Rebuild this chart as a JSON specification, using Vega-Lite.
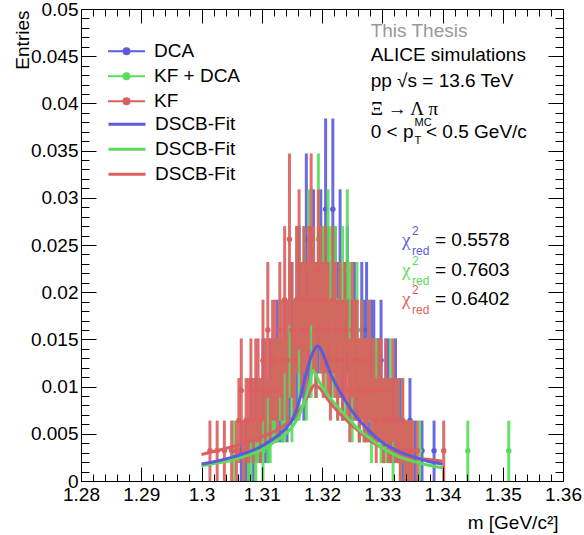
{
"$schema": "https://vega.github.io/schema/vega-lite/v6.json",
"width": 482,
"height": 472,
"autosize": {"type": "none"},
"padding": {"left": 81, "top": 9, "right": 21, "bottom": 54},
"background": "white",
"config": {"view": {"stroke": null}, "font": "Liberation Sans"},
"datasets": {
"h": [
{"s":"DCA","m":1.3066,"y":0.0032,"e":0.0032},{"s":"DCA","m":1.3074,"y":0.0032,"e":0.0032},{"s":"DCA","m":1.3078,"y":0.0032,"e":0.0032},{"s":"DCA","m":1.3082,"y":0.0064,"e":0.0045},{"s":"DCA","m":1.3086,"y":0.0032,"e":0.0032},{"s":"DCA","m":1.309,"y":0.0064,"e":0.0045},{"s":"DCA","m":1.3094,"y":0.0064,"e":0.0045},{"s":"DCA","m":1.3098,"y":0.0064,"e":0.0045},{"s":"DCA","m":1.3102,"y":0.0096,"e":0.0055},{"s":"DCA","m":1.3106,"y":0.0064,"e":0.0045},{"s":"DCA","m":1.311,"y":0.0064,"e":0.0045},{"s":"DCA","m":1.3114,"y":0.0096,"e":0.0055},{"s":"DCA","m":1.3118,"y":0.0096,"e":0.0055},{"s":"DCA","m":1.3122,"y":0.0096,"e":0.0055},{"s":"DCA","m":1.3126,"y":0.0128,"e":0.0064},{"s":"DCA","m":1.313,"y":0.0096,"e":0.0055},{"s":"DCA","m":1.3134,"y":0.0096,"e":0.0055},{"s":"DCA","m":1.3138,"y":0.0128,"e":0.0064},{"s":"DCA","m":1.3142,"y":0.0096,"e":0.0055},{"s":"DCA","m":1.3146,"y":0.0128,"e":0.0064},{"s":"DCA","m":1.315,"y":0.016,"e":0.0072},{"s":"DCA","m":1.3154,"y":0.0128,"e":0.0064},{"s":"DCA","m":1.3158,"y":0.0128,"e":0.0064},{"s":"DCA","m":1.3162,"y":0.0192,"e":0.0078},{"s":"DCA","m":1.3166,"y":0.016,"e":0.0072},{"s":"DCA","m":1.317,"y":0.0128,"e":0.0064},{"s":"DCA","m":1.3174,"y":0.0256,"e":0.0091},{"s":"DCA","m":1.3178,"y":0.016,"e":0.0072},{"s":"DCA","m":1.3182,"y":0.0192,"e":0.0078},{"s":"DCA","m":1.3186,"y":0.0224,"e":0.0085},{"s":"DCA","m":1.319,"y":0.016,"e":0.0072},{"s":"DCA","m":1.3194,"y":0.0192,"e":0.0078},{"s":"DCA","m":1.3198,"y":0.0224,"e":0.0085},{"s":"DCA","m":1.3202,"y":0.0192,"e":0.0078},{"s":"DCA","m":1.3206,"y":0.0288,"e":0.0096},{"s":"DCA","m":1.321,"y":0.0192,"e":0.0078},{"s":"DCA","m":1.3214,"y":0.016,"e":0.0072},{"s":"DCA","m":1.3218,"y":0.0288,"e":0.0096},{"s":"DCA","m":1.3222,"y":0.0192,"e":0.0078},{"s":"DCA","m":1.3226,"y":0.016,"e":0.0072},{"s":"DCA","m":1.323,"y":0.0224,"e":0.0085},{"s":"DCA","m":1.3234,"y":0.0128,"e":0.0064},{"s":"DCA","m":1.3238,"y":0.016,"e":0.0072},{"s":"DCA","m":1.3242,"y":0.0192,"e":0.0078},{"s":"DCA","m":1.3246,"y":0.0128,"e":0.0064},{"s":"DCA","m":1.325,"y":0.0128,"e":0.0064},{"s":"DCA","m":1.3254,"y":0.016,"e":0.0072},{"s":"DCA","m":1.3258,"y":0.0128,"e":0.0064},{"s":"DCA","m":1.3262,"y":0.0096,"e":0.0055},{"s":"DCA","m":1.3266,"y":0.016,"e":0.0072},{"s":"DCA","m":1.327,"y":0.0128,"e":0.0064},{"s":"DCA","m":1.3274,"y":0.016,"e":0.0072},{"s":"DCA","m":1.3278,"y":0.0096,"e":0.0055},{"s":"DCA","m":1.3282,"y":0.0128,"e":0.0064},{"s":"DCA","m":1.3286,"y":0.0128,"e":0.0064},{"s":"DCA","m":1.329,"y":0.0096,"e":0.0055},{"s":"DCA","m":1.3294,"y":0.0096,"e":0.0055},{"s":"DCA","m":1.3298,"y":0.0128,"e":0.0064},{"s":"DCA","m":1.3302,"y":0.0064,"e":0.0045},{"s":"DCA","m":1.3306,"y":0.0096,"e":0.0055},{"s":"DCA","m":1.331,"y":0.0096,"e":0.0055},{"s":"DCA","m":1.3314,"y":0.0064,"e":0.0045},{"s":"DCA","m":1.3318,"y":0.0064,"e":0.0045},{"s":"DCA","m":1.3322,"y":0.0096,"e":0.0055},{"s":"DCA","m":1.3326,"y":0.0064,"e":0.0045},{"s":"DCA","m":1.333,"y":0.0064,"e":0.0045},{"s":"DCA","m":1.3334,"y":0.0032,"e":0.0032},{"s":"DCA","m":1.3338,"y":0.0032,"e":0.0032},{"s":"DCA","m":1.3342,"y":0.0032,"e":0.0032},{"s":"DCA","m":1.3346,"y":0.0064,"e":0.0045},{"s":"DCA","m":1.3354,"y":0.0032,"e":0.0032},{"s":"DCA","m":1.3366,"y":0.0032,"e":0.0032},{"s":"DCA","m":1.3386,"y":0.0032,"e":0.0032},
{"s":"KF + DCA","m":1.3054,"y":0.0032,"e":0.0032},{"s":"KF + DCA","m":1.307,"y":0.0032,"e":0.0032},{"s":"KF + DCA","m":1.3078,"y":0.0032,"e":0.0032},{"s":"KF + DCA","m":1.3082,"y":0.0032,"e":0.0032},{"s":"KF + DCA","m":1.3086,"y":0.0064,"e":0.0045},{"s":"KF + DCA","m":1.309,"y":0.0032,"e":0.0032},{"s":"KF + DCA","m":1.3094,"y":0.0064,"e":0.0045},{"s":"KF + DCA","m":1.3098,"y":0.0064,"e":0.0045},{"s":"KF + DCA","m":1.3102,"y":0.0032,"e":0.0032},{"s":"KF + DCA","m":1.3106,"y":0.0096,"e":0.0055},{"s":"KF + DCA","m":1.311,"y":0.0064,"e":0.0045},{"s":"KF + DCA","m":1.3114,"y":0.0064,"e":0.0045},{"s":"KF + DCA","m":1.3118,"y":0.0096,"e":0.0055},{"s":"KF + DCA","m":1.3122,"y":0.0096,"e":0.0055},{"s":"KF + DCA","m":1.3126,"y":0.0096,"e":0.0055},{"s":"KF + DCA","m":1.313,"y":0.0128,"e":0.0064},{"s":"KF + DCA","m":1.3134,"y":0.0096,"e":0.0055},{"s":"KF + DCA","m":1.3138,"y":0.0096,"e":0.0055},{"s":"KF + DCA","m":1.3142,"y":0.0128,"e":0.0064},{"s":"KF + DCA","m":1.3146,"y":0.016,"e":0.0072},{"s":"KF + DCA","m":1.315,"y":0.0096,"e":0.0055},{"s":"KF + DCA","m":1.3154,"y":0.0128,"e":0.0064},{"s":"KF + DCA","m":1.3158,"y":0.0192,"e":0.0078},{"s":"KF + DCA","m":1.3162,"y":0.0128,"e":0.0064},{"s":"KF + DCA","m":1.3166,"y":0.016,"e":0.0072},{"s":"KF + DCA","m":1.317,"y":0.0192,"e":0.0078},{"s":"KF + DCA","m":1.3174,"y":0.0128,"e":0.0064},{"s":"KF + DCA","m":1.3178,"y":0.0224,"e":0.0085},{"s":"KF + DCA","m":1.3182,"y":0.016,"e":0.0072},{"s":"KF + DCA","m":1.3186,"y":0.0192,"e":0.0078},{"s":"KF + DCA","m":1.319,"y":0.016,"e":0.0072},{"s":"KF + DCA","m":1.3194,"y":0.0256,"e":0.0091},{"s":"KF + DCA","m":1.3198,"y":0.0192,"e":0.0078},{"s":"KF + DCA","m":1.3202,"y":0.0192,"e":0.0078},{"s":"KF + DCA","m":1.3206,"y":0.016,"e":0.0072},{"s":"KF + DCA","m":1.321,"y":0.0224,"e":0.0085},{"s":"KF + DCA","m":1.3214,"y":0.0192,"e":0.0078},{"s":"KF + DCA","m":1.3218,"y":0.016,"e":0.0072},{"s":"KF + DCA","m":1.3222,"y":0.0192,"e":0.0078},{"s":"KF + DCA","m":1.3226,"y":0.0128,"e":0.0064},{"s":"KF + DCA","m":1.323,"y":0.016,"e":0.0072},{"s":"KF + DCA","m":1.3234,"y":0.0192,"e":0.0078},{"s":"KF + DCA","m":1.3238,"y":0.0128,"e":0.0064},{"s":"KF + DCA","m":1.3242,"y":0.0224,"e":0.0085},{"s":"KF + DCA","m":1.3246,"y":0.016,"e":0.0072},{"s":"KF + DCA","m":1.325,"y":0.0096,"e":0.0055},{"s":"KF + DCA","m":1.3254,"y":0.0128,"e":0.0064},{"s":"KF + DCA","m":1.3258,"y":0.016,"e":0.0072},{"s":"KF + DCA","m":1.3262,"y":0.0096,"e":0.0055},{"s":"KF + DCA","m":1.3266,"y":0.0128,"e":0.0064},{"s":"KF + DCA","m":1.327,"y":0.0096,"e":0.0055},{"s":"KF + DCA","m":1.3274,"y":0.0096,"e":0.0055},{"s":"KF + DCA","m":1.3278,"y":0.0128,"e":0.0064},{"s":"KF + DCA","m":1.3282,"y":0.0064,"e":0.0045},{"s":"KF + DCA","m":1.3286,"y":0.0096,"e":0.0055},{"s":"KF + DCA","m":1.329,"y":0.0096,"e":0.0055},{"s":"KF + DCA","m":1.3294,"y":0.0096,"e":0.0055},{"s":"KF + DCA","m":1.3298,"y":0.0064,"e":0.0045},{"s":"KF + DCA","m":1.3302,"y":0.0064,"e":0.0045},{"s":"KF + DCA","m":1.3306,"y":0.0064,"e":0.0045},{"s":"KF + DCA","m":1.331,"y":0.0064,"e":0.0045},{"s":"KF + DCA","m":1.3314,"y":0.0096,"e":0.0055},{"s":"KF + DCA","m":1.3318,"y":0.0032,"e":0.0032},{"s":"KF + DCA","m":1.3322,"y":0.0064,"e":0.0045},{"s":"KF + DCA","m":1.3326,"y":0.0064,"e":0.0045},{"s":"KF + DCA","m":1.333,"y":0.0032,"e":0.0032},{"s":"KF + DCA","m":1.3334,"y":0.0064,"e":0.0045},{"s":"KF + DCA","m":1.3338,"y":0.0032,"e":0.0032},{"s":"KF + DCA","m":1.3342,"y":0.0032,"e":0.0032},{"s":"KF + DCA","m":1.3346,"y":0.0032,"e":0.0032},{"s":"KF + DCA","m":1.335,"y":0.0032,"e":0.0032},{"s":"KF + DCA","m":1.3362,"y":0.0032,"e":0.0032},{"s":"KF + DCA","m":1.3442,"y":0.0032,"e":0.0032},{"s":"KF + DCA","m":1.351,"y":0.0032,"e":0.0032},
{"s":"KF","m":1.3014,"y":0.0032,"e":0.0032},{"s":"KF","m":1.3026,"y":0.0032,"e":0.0032},{"s":"KF","m":1.3038,"y":0.0032,"e":0.0032},{"s":"KF","m":1.305,"y":0.0032,"e":0.0032},{"s":"KF","m":1.3058,"y":0.0032,"e":0.0032},{"s":"KF","m":1.3062,"y":0.0064,"e":0.0045},{"s":"KF","m":1.3066,"y":0.0096,"e":0.0055},{"s":"KF","m":1.307,"y":0.0032,"e":0.0032},{"s":"KF","m":1.3074,"y":0.0064,"e":0.0045},{"s":"KF","m":1.3078,"y":0.0064,"e":0.0045},{"s":"KF","m":1.3082,"y":0.0096,"e":0.0055},{"s":"KF","m":1.3086,"y":0.0064,"e":0.0045},{"s":"KF","m":1.309,"y":0.0096,"e":0.0055},{"s":"KF","m":1.3094,"y":0.0096,"e":0.0055},{"s":"KF","m":1.3098,"y":0.0064,"e":0.0045},{"s":"KF","m":1.3102,"y":0.0128,"e":0.0064},{"s":"KF","m":1.3106,"y":0.0096,"e":0.0055},{"s":"KF","m":1.311,"y":0.016,"e":0.0072},{"s":"KF","m":1.3114,"y":0.0096,"e":0.0055},{"s":"KF","m":1.3118,"y":0.0128,"e":0.0064},{"s":"KF","m":1.3122,"y":0.0128,"e":0.0064},{"s":"KF","m":1.3126,"y":0.0096,"e":0.0055},{"s":"KF","m":1.313,"y":0.016,"e":0.0072},{"s":"KF","m":1.3134,"y":0.0128,"e":0.0064},{"s":"KF","m":1.3138,"y":0.0192,"e":0.0078},{"s":"KF","m":1.3142,"y":0.0128,"e":0.0064},{"s":"KF","m":1.3146,"y":0.0256,"e":0.0091},{"s":"KF","m":1.315,"y":0.016,"e":0.0072},{"s":"KF","m":1.3154,"y":0.0128,"e":0.0064},{"s":"KF","m":1.3158,"y":0.0192,"e":0.0078},{"s":"KF","m":1.3162,"y":0.0224,"e":0.0085},{"s":"KF","m":1.3166,"y":0.016,"e":0.0072},{"s":"KF","m":1.317,"y":0.0192,"e":0.0078},{"s":"KF","m":1.3174,"y":0.016,"e":0.0072},{"s":"KF","m":1.3178,"y":0.0192,"e":0.0078},{"s":"KF","m":1.3182,"y":0.0256,"e":0.0091},{"s":"KF","m":1.3186,"y":0.0192,"e":0.0078},{"s":"KF","m":1.319,"y":0.016,"e":0.0072},{"s":"KF","m":1.3194,"y":0.0224,"e":0.0085},{"s":"KF","m":1.3198,"y":0.0192,"e":0.0078},{"s":"KF","m":1.3202,"y":0.016,"e":0.0072},{"s":"KF","m":1.3206,"y":0.0192,"e":0.0078},{"s":"KF","m":1.321,"y":0.016,"e":0.0072},{"s":"KF","m":1.3214,"y":0.0128,"e":0.0064},{"s":"KF","m":1.3218,"y":0.0192,"e":0.0078},{"s":"KF","m":1.3222,"y":0.016,"e":0.0072},{"s":"KF","m":1.3226,"y":0.0128,"e":0.0064},{"s":"KF","m":1.323,"y":0.016,"e":0.0072},{"s":"KF","m":1.3234,"y":0.0128,"e":0.0064},{"s":"KF","m":1.3238,"y":0.016,"e":0.0072},{"s":"KF","m":1.3242,"y":0.0128,"e":0.0064},{"s":"KF","m":1.3246,"y":0.0096,"e":0.0055},{"s":"KF","m":1.325,"y":0.016,"e":0.0072},{"s":"KF","m":1.3254,"y":0.0128,"e":0.0064},{"s":"KF","m":1.3258,"y":0.0128,"e":0.0064},{"s":"KF","m":1.3262,"y":0.0096,"e":0.0055},{"s":"KF","m":1.3266,"y":0.0128,"e":0.0064},{"s":"KF","m":1.327,"y":0.0096,"e":0.0055},{"s":"KF","m":1.3274,"y":0.0096,"e":0.0055},{"s":"KF","m":1.3278,"y":0.0128,"e":0.0064},{"s":"KF","m":1.3282,"y":0.0096,"e":0.0055},{"s":"KF","m":1.3286,"y":0.0096,"e":0.0055},{"s":"KF","m":1.329,"y":0.0064,"e":0.0045},{"s":"KF","m":1.3294,"y":0.0096,"e":0.0055},{"s":"KF","m":1.3298,"y":0.0096,"e":0.0055},{"s":"KF","m":1.3302,"y":0.0064,"e":0.0045},{"s":"KF","m":1.3306,"y":0.0096,"e":0.0055},{"s":"KF","m":1.331,"y":0.0064,"e":0.0045},{"s":"KF","m":1.3314,"y":0.0064,"e":0.0045},{"s":"KF","m":1.3318,"y":0.0096,"e":0.0055},{"s":"KF","m":1.3322,"y":0.0064,"e":0.0045},{"s":"KF","m":1.3326,"y":0.0064,"e":0.0045},{"s":"KF","m":1.333,"y":0.0032,"e":0.0032},{"s":"KF","m":1.3334,"y":0.0064,"e":0.0045},{"s":"KF","m":1.3338,"y":0.0032,"e":0.0032},{"s":"KF","m":1.3342,"y":0.0032,"e":0.0032},{"s":"KF","m":1.3346,"y":0.0032,"e":0.0032},{"s":"KF","m":1.335,"y":0.0032,"e":0.0032},{"s":"KF","m":1.3358,"y":0.0032,"e":0.0032},{"s":"KF","m":1.3402,"y":0.0032,"e":0.0032}
],
"fit": [
{"f":"fD","m":1.3,"y":0.0018},{"f":"fD","m":1.3025,"y":0.0021},{"f":"fD","m":1.305,"y":0.0025},{"f":"fD","m":1.3075,"y":0.003},{"f":"fD","m":1.31,"y":0.0037},{"f":"fD","m":1.312,"y":0.0045},{"f":"fD","m":1.314,"y":0.0056},{"f":"fD","m":1.315,"y":0.0064},{"f":"fD","m":1.316,"y":0.008},{"f":"fD","m":1.317,"y":0.0104},{"f":"fD","m":1.318,"y":0.0128},{"f":"fD","m":1.3187,"y":0.0139},{"f":"fD","m":1.3193,"y":0.0143},{"f":"fD","m":1.32,"y":0.0137},{"f":"fD","m":1.3205,"y":0.0129},{"f":"fD","m":1.3212,"y":0.0117},{"f":"fD","m":1.322,"y":0.0106},{"f":"fD","m":1.3235,"y":0.0089},{"f":"fD","m":1.325,"y":0.0074},{"f":"fD","m":1.3265,"y":0.0062},{"f":"fD","m":1.328,"y":0.0052},{"f":"fD","m":1.33,"y":0.0041},{"f":"fD","m":1.3325,"y":0.0032},{"f":"fD","m":1.335,"y":0.0026},{"f":"fD","m":1.3375,"y":0.0021},{"f":"fD","m":1.34,"y":0.0018},
{"f":"fKD","m":1.3,"y":0.0016},{"f":"fKD","m":1.3025,"y":0.0019},{"f":"fKD","m":1.305,"y":0.0022},{"f":"fKD","m":1.3075,"y":0.0027},{"f":"fKD","m":1.31,"y":0.0033},{"f":"fKD","m":1.312,"y":0.0041},{"f":"fKD","m":1.314,"y":0.005},{"f":"fKD","m":1.315,"y":0.0057},{"f":"fKD","m":1.316,"y":0.0067},{"f":"fKD","m":1.317,"y":0.0083},{"f":"fKD","m":1.3178,"y":0.01},{"f":"fKD","m":1.3185,"y":0.0117},{"f":"fKD","m":1.319,"y":0.0112},{"f":"fKD","m":1.3197,"y":0.0103},{"f":"fKD","m":1.3205,"y":0.0095},{"f":"fKD","m":1.322,"y":0.0083},{"f":"fKD","m":1.3241,"y":0.0068},{"f":"fKD","m":1.326,"y":0.0055},{"f":"fKD","m":1.328,"y":0.0045},{"f":"fKD","m":1.3296,"y":0.0037},{"f":"fKD","m":1.332,"y":0.0028},{"f":"fKD","m":1.335,"y":0.0021},{"f":"fKD","m":1.3375,"y":0.0017},{"f":"fKD","m":1.34,"y":0.0014},
{"f":"fK","m":1.3,"y":0.0028},{"f":"fK","m":1.3025,"y":0.0032},{"f":"fK","m":1.305,"y":0.0036},{"f":"fK","m":1.3075,"y":0.0041},{"f":"fK","m":1.31,"y":0.0047},{"f":"fK","m":1.3133,"y":0.0057},{"f":"fK","m":1.315,"y":0.0066},{"f":"fK","m":1.3165,"y":0.0077},{"f":"fK","m":1.3178,"y":0.0092},{"f":"fK","m":1.3188,"y":0.0102},{"f":"fK","m":1.3198,"y":0.0097},{"f":"fK","m":1.321,"y":0.0086},{"f":"fK","m":1.323,"y":0.0071},{"f":"fK","m":1.325,"y":0.0059},{"f":"fK","m":1.3275,"y":0.0045},{"f":"fK","m":1.33,"y":0.0035},{"f":"fK","m":1.3325,"y":0.0029},{"f":"fK","m":1.335,"y":0.0025},{"f":"fK","m":1.3375,"y":0.0023},{"f":"fK","m":1.34,"y":0.0021}
]
},
"layer": [
{
"data": {"values": [{}]},
"mark": {"type": "point", "opacity": 0},
"encoding": {
"x": {"datum": 1.3, "type": "quantitative", "scale": {"domain": [1.28, 1.36], "nice": false, "zero": false},
"axis": {"orient": "bottom", "zindex": 1, "ticks": true, "values": [1.28,1.29,1.3,1.31,1.32,1.33,1.34,1.35,1.36],
"format": ".2~f", "tickSize": -14, "tickColor": "black", "domainColor": "black", "grid": false,
"labelFont": "Liberation Sans", "labelFontSize": 19, "labelColor": "black", "labelPadding": 18, "labelFlush": false, "labelOverlap": false, "labelBaseline": "top",
"title": "m [GeV/c²]", "titleFont": "Liberation Sans", "titleFontSize": 19, "titleFontWeight": "normal", "titleColor": "black", "titleX": 477, "titleY": 47, "titleAlign": "right", "titleBaseline": "alphabetic"}},
"y": {"datum": 0.01, "type": "quantitative", "scale": {"domain": [0, 0.05], "nice": false, "zero": true},
"axis": {"orient": "left", "zindex": 1, "ticks": true, "values": [0,0.005,0.01,0.015,0.02,0.025,0.03,0.035,0.04,0.045,0.05],
"format": ".3~f", "tickSize": -15, "tickColor": "black", "domainColor": "black", "grid": false,
"labelFont": "Liberation Sans", "labelFontSize": 19, "labelColor": "black", "labelPadding": 18, "labelFlush": false, "labelOverlap": false,
"title": "Entries", "titleFont": "Liberation Sans", "titleFontSize": 19, "titleFontWeight": "normal", "titleColor": "black", "titleX": -53, "titleY": 1, "titleAlign": "right", "titleBaseline": "alphabetic", "titleAngle": -90}}
}
},
{
"data": {"values": [{}]},
"mark": {"type": "point", "opacity": 0},
"encoding": {
"x": {"datum": 1.3, "type": "quantitative",
"axis": {"orient": "bottom", "zindex": 1, "ticks": true, "values": [1.282,1.284,1.286,1.288,1.292,1.294,1.296,1.298,1.302,1.304,1.306,1.308,1.312,1.314,1.316,1.318,1.322,1.324,1.326,1.328,1.332,1.334,1.336,1.338,1.342,1.344,1.346,1.348,1.352,1.354,1.356,1.358],
"labels": false, "title": null, "domain": false, "tickSize": -7, "tickColor": "black", "grid": false}},
"y": {"datum": 0.01, "type": "quantitative",
"axis": {"orient": "left", "zindex": 1, "ticks": true, "values": [0.001,0.002,0.003,0.004,0.006,0.007,0.008,0.009,0.011,0.012,0.013,0.014,0.016,0.017,0.018,0.019,0.021,0.022,0.023,0.024,0.026,0.027,0.028,0.029,0.031,0.032,0.033,0.034,0.036,0.037,0.038,0.039,0.041,0.042,0.043,0.044,0.046,0.047,0.048,0.049],
"labels": false, "title": null, "domain": false, "tickSize": -8, "tickColor": "black", "grid": false}}
}
},
{
"data": {"values": [{}]},
"mark": {"type": "point", "opacity": 0},
"encoding": {
"x": {"datum": 1.3, "type": "quantitative",
"axis": {"orient": "top", "zindex": 1, "ticks": true, "values": [1.28,1.29,1.3,1.31,1.32,1.33,1.34,1.35,1.36],
"labels": false, "title": null, "tickSize": -14, "tickColor": "black", "domainColor": "black", "grid": false}},
"y": {"datum": 0.01, "type": "quantitative",
"axis": {"orient": "right", "zindex": 1, "ticks": true, "values": [0,0.005,0.01,0.015,0.02,0.025,0.03,0.035,0.04,0.045,0.05],
"labels": false, "title": null, "tickSize": -15, "tickColor": "black", "domainColor": "black", "grid": false}}
}
},
{
"data": {"values": [{}]},
"mark": {"type": "point", "opacity": 0},
"encoding": {
"x": {"datum": 1.3, "type": "quantitative",
"axis": {"orient": "top", "zindex": 1, "ticks": true, "values": [1.282,1.284,1.286,1.288,1.292,1.294,1.296,1.298,1.302,1.304,1.306,1.308,1.312,1.314,1.316,1.318,1.322,1.324,1.326,1.328,1.332,1.334,1.336,1.338,1.342,1.344,1.346,1.348,1.352,1.354,1.356,1.358],
"labels": false, "title": null, "domain": false, "tickSize": -7, "tickColor": "black", "grid": false}},
"y": {"datum": 0.01, "type": "quantitative",
"axis": {"orient": "right", "zindex": 1, "ticks": true, "values": [0.001,0.002,0.003,0.004,0.006,0.007,0.008,0.009,0.011,0.012,0.013,0.014,0.016,0.017,0.018,0.019,0.021,0.022,0.023,0.024,0.026,0.027,0.028,0.029,0.031,0.032,0.033,0.034,0.036,0.037,0.038,0.039,0.041,0.042,0.043,0.044,0.046,0.047,0.048,0.049],
"labels": false, "title": null, "domain": false, "tickSize": -8, "tickColor": "black", "grid": false}}
}
},
{
"data": {"name": "h"},
"transform": [{"filter": "datum.s === 'DCA'"}],
"mark": {"type": "errorbar", "thickness": 3, "opacity": 0.9},
"encoding": {
"x": {"field": "m", "type": "quantitative", "axis": null},
"y": {"field": "y", "type": "quantitative", "axis": null},
"yError": {"field": "e"},
"color": {"field": "s", "type": "nominal", "scale": {"domain": ["DCA", "KF + DCA", "KF"], "range": ["#5b5bdb", "#5bdb5b", "#db5f5f"]},
"legend": {"orient": "none", "legendX": 26, "legendY": 30, "title": null, "padding": 0, "offset": 0, "rowPadding": 0, "clipHeight": 24.5,
"symbolType": "M-1,0H1M0.16,0A0.16,0.16,0,1,1,-0.16,0A0.16,0.16,0,1,1,0.16,0Z", "symbolSize": 1369, "symbolStrokeWidth": 2, "symbolOpacity": 1,
"labelFont": "Liberation Sans", "labelFontSize": 19, "labelColor": "black", "labelOffset": 8, "labelLimit": 300,
"encode": {"symbols": {"update": {"fill": {"scale": "color", "field": "value"}, "stroke": {"scale": "color", "field": "value"}}}}}}
}
},
{
"data": {"name": "h"},
"transform": [{"filter": "datum.s === 'DCA'"}],
"mark": {"type": "point", "filled": true, "size": 30, "opacity": 1},
"encoding": {"x": {"field": "m", "type": "quantitative", "axis": null}, "y": {"field": "y", "type": "quantitative", "axis": null}, "color": {"field": "s", "type": "nominal"}}
},
{
"data": {"name": "h"},
"transform": [{"filter": "datum.s === 'KF + DCA'"}],
"mark": {"type": "errorbar", "thickness": 3, "opacity": 0.9},
"encoding": {"x": {"field": "m", "type": "quantitative", "axis": null}, "y": {"field": "y", "type": "quantitative", "axis": null}, "yError": {"field": "e"}, "color": {"field": "s", "type": "nominal"}}
},
{
"data": {"name": "h"},
"transform": [{"filter": "datum.s === 'KF + DCA'"}],
"mark": {"type": "point", "filled": true, "size": 30, "opacity": 1},
"encoding": {"x": {"field": "m", "type": "quantitative", "axis": null}, "y": {"field": "y", "type": "quantitative", "axis": null}, "color": {"field": "s", "type": "nominal"}}
},
{
"data": {"name": "h"},
"transform": [{"filter": "datum.s === 'KF'"}],
"mark": {"type": "errorbar", "thickness": 3, "opacity": 0.9},
"encoding": {"x": {"field": "m", "type": "quantitative", "axis": null}, "y": {"field": "y", "type": "quantitative", "axis": null}, "yError": {"field": "e"}, "color": {"field": "s", "type": "nominal"}}
},
{
"data": {"name": "h"},
"transform": [{"filter": "datum.s === 'KF'"}],
"mark": {"type": "point", "filled": true, "size": 30, "opacity": 1},
"encoding": {"x": {"field": "m", "type": "quantitative", "axis": null}, "y": {"field": "y", "type": "quantitative", "axis": null}, "color": {"field": "s", "type": "nominal"}}
},
{
"data": {"name": "fit"},
"transform": [{"filter": "datum.f === 'fK'"}],
"mark": {"type": "line", "strokeWidth": 3, "interpolate": "monotone"},
"encoding": {"x": {"field": "m", "type": "quantitative", "axis": null}, "y": {"field": "y", "type": "quantitative", "axis": null},
"stroke": {"field": "f", "type": "nominal", "scale": {"domain": ["fD", "fKD", "fK"], "range": ["#5b5bdb", "#5bdb5b", "#db5f5f"]},
"legend": {"orient": "none", "legendX": 26, "legendY": 103, "title": null, "padding": 0, "offset": 0, "rowPadding": 0, "clipHeight": 24.5,
"symbolType": "stroke", "symbolSize": 1369, "symbolStrokeWidth": 3, "symbolOpacity": 1, "labelExpr": "'DSCB-Fit'",
"labelFont": "Liberation Sans", "labelFontSize": 19, "labelColor": "black", "labelOffset": 8, "labelLimit": 300}}}
},
{
"data": {"name": "fit"},
"transform": [{"filter": "datum.f === 'fKD'"}],
"mark": {"type": "line", "strokeWidth": 3, "interpolate": "monotone"},
"encoding": {"x": {"field": "m", "type": "quantitative", "axis": null}, "y": {"field": "y", "type": "quantitative", "axis": null}, "stroke": {"field": "f", "type": "nominal"}}
},
{
"data": {"name": "fit"},
"transform": [{"filter": "datum.f === 'fD'"}],
"mark": {"type": "line", "strokeWidth": 3, "interpolate": "monotone"},
"encoding": {"x": {"field": "m", "type": "quantitative", "axis": null}, "y": {"field": "y", "type": "quantitative", "axis": null}, "stroke": {"field": "f", "type": "nominal"}}
},
{
"data": {"values": [{}]},
"layer": [
{"mark": {"type": "text", "align": "left", "baseline": "alphabetic", "fontSize": 19, "color": "#999999", "font": "Liberation Sans"}, "encoding": {"x": {"datum": 1.32808, "type": "quantitative", "axis": null}, "y": {"datum": 0.047, "type": "quantitative", "axis": null}, "text": {"value": "This Thesis"}}},
{"mark": {"type": "text", "align": "left", "baseline": "alphabetic", "fontSize": 19, "color": "black", "font": "Liberation Sans"}, "encoding": {"x": {"datum": 1.32808, "type": "quantitative", "axis": null}, "y": {"datum": 0.04449, "type": "quantitative", "axis": null}, "text": {"value": "ALICE simulations"}}},
{"mark": {"type": "text", "align": "left", "baseline": "alphabetic", "fontSize": 19, "color": "black", "font": "Liberation Sans"}, "encoding": {"x": {"datum": 1.32808, "type": "quantitative", "axis": null}, "y": {"datum": 0.0417, "type": "quantitative", "axis": null}, "text": {"value": "pp  √s = 13.6 TeV"}}},
{"mark": {"type": "text", "align": "left", "baseline": "alphabetic", "fontSize": 19, "color": "black", "font": "Liberation Serif"}, "encoding": {"x": {"datum": 1.32808, "type": "quantitative", "axis": null}, "y": {"datum": 0.03877, "type": "quantitative", "axis": null}, "text": {"value": "Ξ → Λ π"}}},
{"mark": {"type": "text", "align": "left", "baseline": "alphabetic", "fontSize": 19, "color": "black", "font": "Liberation Sans"}, "encoding": {"x": {"datum": 1.32808, "type": "quantitative", "axis": null}, "y": {"datum": 0.0363, "type": "quantitative", "axis": null}, "text": {"value": "0 < p"}}},
{"mark": {"type": "text", "align": "left", "baseline": "alphabetic", "fontSize": 11, "color": "black", "font": "Liberation Sans"}, "encoding": {"x": {"datum": 1.33535, "type": "quantitative", "axis": null}, "y": {"datum": 0.0357, "type": "quantitative", "axis": null}, "text": {"value": "T"}}},
{"mark": {"type": "text", "align": "left", "baseline": "alphabetic", "fontSize": 11, "color": "black", "font": "Liberation Sans"}, "encoding": {"x": {"datum": 1.33535, "type": "quantitative", "axis": null}, "y": {"datum": 0.0376, "type": "quantitative", "axis": null}, "text": {"value": "MC"}}},
{"mark": {"type": "text", "align": "left", "baseline": "alphabetic", "fontSize": 19, "color": "black", "font": "Liberation Sans"}, "encoding": {"x": {"datum": 1.33726, "type": "quantitative", "axis": null}, "y": {"datum": 0.0363, "type": "quantitative", "axis": null}, "text": {"value": "< 0.5 GeV/c"}}},
{"mark": {"type": "text", "align": "left", "baseline": "alphabetic", "fontSize": 19, "color": "#5b5bdb", "font": "Liberation Serif"}, "encoding": {"x": {"datum": 1.33328, "type": "quantitative", "axis": null}, "y": {"datum": 0.02489, "type": "quantitative", "axis": null}, "text": {"value": "χ"}}},
{"mark": {"type": "text", "align": "left", "baseline": "alphabetic", "fontSize": 12, "color": "#5b5bdb", "font": "Liberation Sans"}, "encoding": {"x": {"datum": 1.33494, "type": "quantitative", "axis": null}, "y": {"datum": 0.02606, "type": "quantitative", "axis": null}, "text": {"value": "2"}}},
{"mark": {"type": "text", "align": "left", "baseline": "alphabetic", "fontSize": 12, "color": "#5b5bdb", "font": "Liberation Sans"}, "encoding": {"x": {"datum": 1.33494, "type": "quantitative", "axis": null}, "y": {"datum": 0.02394, "type": "quantitative", "axis": null}, "text": {"value": "red"}}},
{"mark": {"type": "text", "align": "left", "baseline": "alphabetic", "fontSize": 19, "color": "black", "font": "Liberation Sans"}, "encoding": {"x": {"datum": 1.33875, "type": "quantitative", "axis": null}, "y": {"datum": 0.02489, "type": "quantitative", "axis": null}, "text": {"value": "= 0.5578"}}},
{"mark": {"type": "text", "align": "left", "baseline": "alphabetic", "fontSize": 19, "color": "#5bdb5b", "font": "Liberation Serif"}, "encoding": {"x": {"datum": 1.33328, "type": "quantitative", "axis": null}, "y": {"datum": 0.02171, "type": "quantitative", "axis": null}, "text": {"value": "χ"}}},
{"mark": {"type": "text", "align": "left", "baseline": "alphabetic", "fontSize": 12, "color": "#5bdb5b", "font": "Liberation Sans"}, "encoding": {"x": {"datum": 1.33494, "type": "quantitative", "axis": null}, "y": {"datum": 0.02288, "type": "quantitative", "axis": null}, "text": {"value": "2"}}},
{"mark": {"type": "text", "align": "left", "baseline": "alphabetic", "fontSize": 12, "color": "#5bdb5b", "font": "Liberation Sans"}, "encoding": {"x": {"datum": 1.33494, "type": "quantitative", "axis": null}, "y": {"datum": 0.02076, "type": "quantitative", "axis": null}, "text": {"value": "red"}}},
{"mark": {"type": "text", "align": "left", "baseline": "alphabetic", "fontSize": 19, "color": "black", "font": "Liberation Sans"}, "encoding": {"x": {"datum": 1.33875, "type": "quantitative", "axis": null}, "y": {"datum": 0.02171, "type": "quantitative", "axis": null}, "text": {"value": "= 0.7603"}}},
{"mark": {"type": "text", "align": "left", "baseline": "alphabetic", "fontSize": 19, "color": "#db5f5f", "font": "Liberation Serif"}, "encoding": {"x": {"datum": 1.33328, "type": "quantitative", "axis": null}, "y": {"datum": 0.01864, "type": "quantitative", "axis": null}, "text": {"value": "χ"}}},
{"mark": {"type": "text", "align": "left", "baseline": "alphabetic", "fontSize": 12, "color": "#db5f5f", "font": "Liberation Sans"}, "encoding": {"x": {"datum": 1.33494, "type": "quantitative", "axis": null}, "y": {"datum": 0.01981, "type": "quantitative", "axis": null}, "text": {"value": "2"}}},
{"mark": {"type": "text", "align": "left", "baseline": "alphabetic", "fontSize": 12, "color": "#db5f5f", "font": "Liberation Sans"}, "encoding": {"x": {"datum": 1.33494, "type": "quantitative", "axis": null}, "y": {"datum": 0.01769, "type": "quantitative", "axis": null}, "text": {"value": "red"}}},
{"mark": {"type": "text", "align": "left", "baseline": "alphabetic", "fontSize": 19, "color": "black", "font": "Liberation Sans"}, "encoding": {"x": {"datum": 1.33875, "type": "quantitative", "axis": null}, "y": {"datum": 0.01864, "type": "quantitative", "axis": null}, "text": {"value": "= 0.6402"}}}
]
}
],
"resolve": {"axis": {"x": "independent", "y": "independent"}}
}
